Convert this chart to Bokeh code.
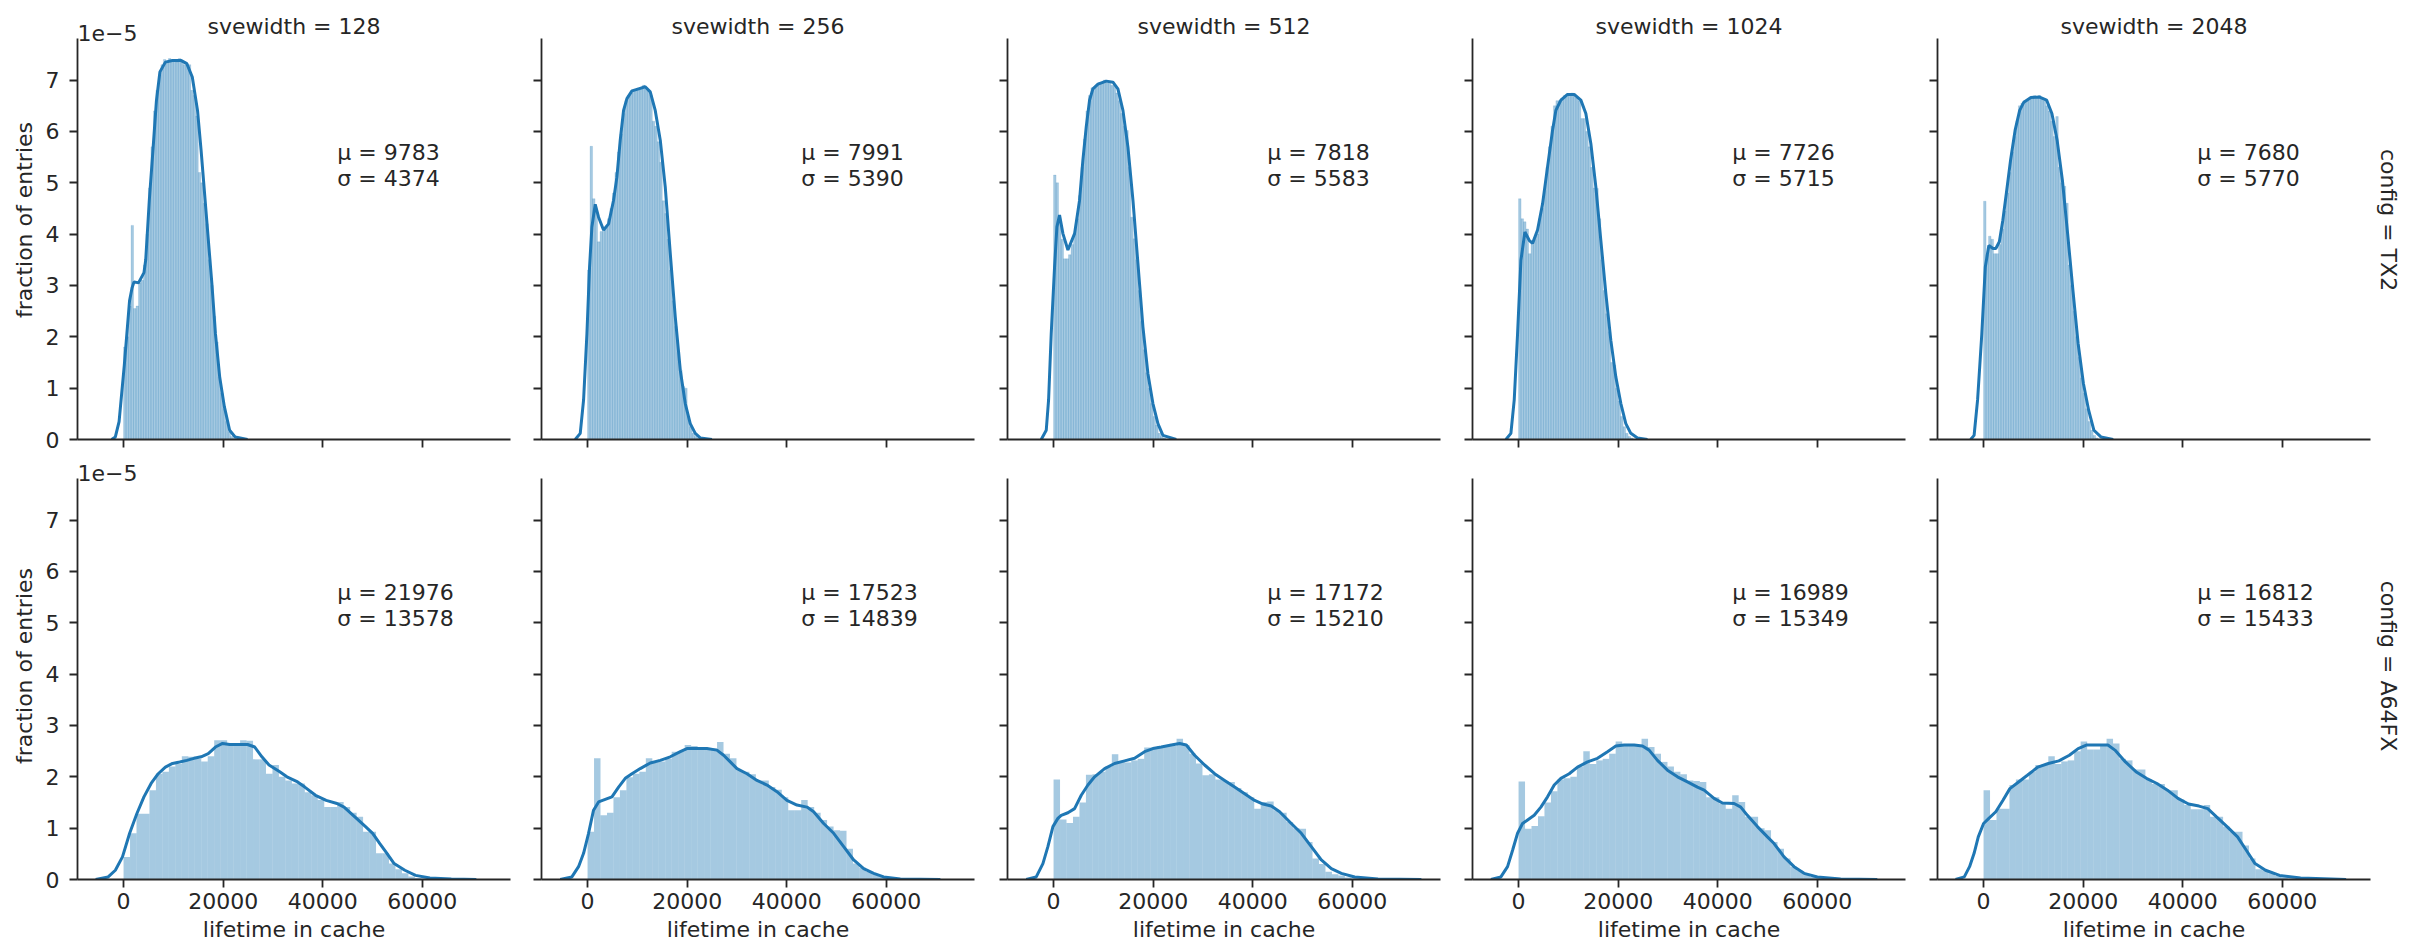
import math
from bokeh.plotting import figure
from bokeh.layouts import gridplot
from bokeh.models import Range1d, FixedTicker, Label, CustomJSTickFormatter, Title
from bokeh.embed import file_html
from bokeh.resources import INLINE

# ---------------- data (y values in units of 1e-5) ----------------
SVEWIDTHS = [128, 256, 512, 1024, 2048]
CONFIGS = ["TX2", "A64FX"]
MU_TX2 = [9783, 7991, 7818, 7726, 7680]
SIGMA_TX2 = [4374, 5390, 5583, 5715, 5770]
MU_A64FX = [21976, 17523, 17172, 16989, 16812]
SIGMA_A64FX = [13578, 14839, 15210, 15349, 15433]
X_TICKS = [0, 20000, 40000, 60000]
Y_TICKS = [0, 1, 2, 3, 4, 5, 6, 7]
BIN_WIDTH_TX2 = 500
BIN_WIDTH_A64FX = 1300

HIST_TX2_128 = [1.8, 2.0, 2.6, 4.17, 2.55, 2.6, 3.05, 3.1, 3.4, 4.0,
                4.9, 5.7, 6.4, 6.8, 7.1, 7.3, 7.4, 7.35, 7.42, 7.38,
                7.4, 7.35, 7.42, 7.35, 7.3, 7.3, 7.3, 6.8, 6.7, 6.3,
                5.2, 5.0, 4.6, 4.2, 3.5, 3.0, 2.4, 1.9, 1.22, 0.9,
                0.6, 0.35, 0.15, 0.06, 0.02]
HIST_TX2_256 = [3.3, 5.71, 4.69, 4.45, 3.85, 4.05, 4.1, 4.15, 4.3, 4.5,
                4.8, 5.2, 5.6, 5.95, 6.35, 6.6, 6.7, 6.75, 6.8, 6.8,
                6.85, 6.85, 6.9, 6.85, 6.8, 6.7, 6.2, 6.1, 5.8, 5.4,
                4.65, 4.4, 3.9, 3.3, 2.7, 2.2, 1.7, 1.35, 1.03, 1.0,
                0.45, 0.25, 0.12, 0.06, 0.03]
HIST_TX2_512 = [5.15, 5.0, 4.3, 3.9, 3.52, 3.52, 3.6, 3.8, 4.0, 4.3,
                4.75, 5.3, 5.85, 6.4, 6.7, 6.85, 6.85, 6.9, 6.95, 6.95,
                7.0, 6.95, 6.98, 6.9, 6.9, 6.75, 6.6, 6.35, 6.1, 6.02,
                5.3, 4.33, 3.91, 3.5, 2.9, 2.3, 1.75, 1.3, 1.0, 0.7,
                0.45, 0.28, 0.12, 0.06, 0.03]
HIST_TX2_1024 = [4.69, 4.3, 4.24, 4.1, 3.62, 3.8, 3.9, 4.0, 4.3, 4.5,
                 4.85, 5.3, 5.7, 6.1, 6.5, 6.6, 6.6, 6.65, 6.7, 6.72,
                 6.7, 6.75, 6.7, 6.65, 6.6, 6.25, 6.25, 6.0, 5.7, 5.3,
                 4.9, 4.89, 4.3, 3.5, 2.9, 2.45, 2.1, 1.5, 1.45, 1.0,
                 0.75, 0.45, 0.25, 0.12, 0.06, 0.03]
HIST_TX2_2048 = [4.64, 3.6, 3.96, 3.9, 3.62, 3.62, 3.8, 4.1, 4.45, 4.8,
                 5.2, 5.6, 5.9, 6.2, 6.5, 6.55, 6.6, 6.6, 6.65, 6.65,
                 6.7, 6.65, 6.7, 6.65, 6.6, 6.5, 6.4, 6.2, 5.9, 6.29,
                 5.3, 5.0, 4.93, 4.6, 3.4, 3.0, 2.5, 2.0, 1.6, 1.2,
                 0.9, 0.6, 0.35, 0.18, 0.08, 0.03]

HIST_A64FX_128 = [0.44, 0.9, 1.28, 1.28, 1.74, 2.06, 2.1, 2.2, 2.25, 2.4,
                  2.39, 2.35, 2.3, 2.4, 2.71, 2.71, 2.62, 2.62, 2.71, 2.7,
                  2.34, 2.34, 2.06, 2.23, 2.0, 1.93, 1.87, 1.87, 1.7, 1.64,
                  1.55, 1.41, 1.41, 1.51, 1.41, 1.3, 1.22, 0.93, 0.93, 0.51,
                  0.51, 0.31, 0.2, 0.12, 0.06, 0.03, 0.02, 0.01]
HIST_A64FX_256 = [0.93, 2.36, 1.25, 1.3, 1.6, 1.74, 1.99, 2.06, 2.1, 2.36,
                  2.3, 2.3, 2.35, 2.49, 2.5, 2.62, 2.6, 2.55, 2.55, 2.55,
                  2.68, 2.45, 2.36, 2.13, 2.1, 2.05, 1.93, 1.93, 1.8, 1.75,
                  1.6, 1.35, 1.35, 1.55, 1.41, 1.3, 1.16, 1.03, 0.96, 0.95,
                  0.6, 0.31, 0.23, 0.15, 0.1, 0.05, 0.03, 0.02]
HIST_A64FX_512 = [1.95, 1.17, 1.1, 1.22, 1.5, 2.04, 2.05, 2.1, 2.2, 2.44,
                  2.3, 2.28, 2.32, 2.35, 2.57, 2.57, 2.6, 2.6, 2.6, 2.74,
                  2.62, 2.45, 2.26, 2.03, 2.05, 1.95, 1.92, 1.9, 1.78, 1.7,
                  1.6, 1.38, 1.51, 1.52, 1.35, 1.3, 1.12, 1.0, 0.99, 0.73,
                  0.41, 0.3, 0.15, 0.1, 0.08, 0.04, 0.02, 0.01]
HIST_A64FX_1024 = [1.91, 0.99, 1.04, 1.23, 1.5, 1.72, 1.95, 1.97, 2.0, 2.2,
                   2.5, 2.25, 2.32, 2.35, 2.45, 2.69, 2.6, 2.6, 2.6, 2.74,
                   2.58, 2.45, 2.29, 2.2, 2.1, 2.05, 1.93, 1.92, 1.9, 1.6,
                   1.6, 1.48, 1.38, 1.64, 1.51, 1.22, 1.22, 1.0, 0.96, 0.73,
                   0.6, 0.41, 0.25, 0.17, 0.1, 0.05, 0.03, 0.01]
HIST_A64FX_2048 = [1.74, 1.16, 1.38, 1.38, 1.84, 1.95, 1.95, 2.1, 2.23, 2.25,
                   2.4, 2.25, 2.3, 2.32, 2.5, 2.69, 2.53, 2.53, 2.6, 2.74,
                   2.65, 2.35, 2.32, 2.14, 2.14, 1.95, 1.86, 1.86, 1.74, 1.74,
                   1.56, 1.45, 1.37, 1.37, 1.45, 1.22, 1.22, 1.03, 0.93, 0.93,
                   0.66, 0.41, 0.2, 0.18, 0.12, 0.07, 0.04, 0.02]

KDE_X_TX2_128 = [-2400, -1650, -900, 150, 1200, 1700, 2100, 3000, 4100, 4450,
                 5170, 5900, 6600, 7300, 8400, 9800, 11600, 12700, 13800, 14850,
                 15570, 16650, 17730, 18450, 19300, 20240, 21300, 22400, 24900]
KDE_Y_TX2_128 = [0, 0.05, 0.35, 1.45, 2.7, 2.95, 3.07, 3.05, 3.25, 3.5,
                 4.66, 5.63, 6.6, 7.16, 7.35, 7.38, 7.38, 7.32, 7.06, 6.41,
                 5.63, 4.33, 3.04, 2.06, 1.22, 0.64, 0.18, 0.05, 0]
KDE_X_TX2_256 = [-2480, -1470, -800, -130, 400, 870, 1540, 2210, 3210, 4220,
                 5220, 5890, 6560, 7230, 7900, 8910, 10250, 11580, 12590, 13590,
                 14600, 15600, 16610, 17610, 18620, 19620, 20620, 21630, 22630, 24980]
KDE_Y_TX2_256 = [0, 0.12, 0.77, 2.06, 3.36, 4.14, 4.58, 4.33, 4.08, 4.2,
                 4.66, 5.11, 5.83, 6.41, 6.64, 6.79, 6.83, 6.87, 6.77, 6.41,
                 5.83, 4.92, 3.62, 2.39, 1.35, 0.70, 0.31, 0.12, 0.03, 0]
KDE_X_TX2_512 = [-2480, -1470, -1000, -470, 200, 670, 1200, 1880, 2880, 4220,
                 5220, 5890, 6560, 7230, 7900, 8910, 10580, 11920, 12920, 13930,
                 14930, 15940, 16940, 17950, 18950, 19950, 20960, 21960, 24640]
KDE_Y_TX2_512 = [0, 0.18, 0.77, 2.06, 3.36, 4.14, 4.37, 4.01, 3.69, 4.01,
                 4.66, 5.44, 6.09, 6.61, 6.83, 6.92, 6.98, 6.96, 6.83, 6.41,
                 5.70, 4.66, 3.43, 2.19, 1.28, 0.70, 0.31, 0.08, 0]
KDE_X_TX2_1024 = [-2540, -1540, -870, -200, 470, 1270, 2140, 2810, 3810, 4820,
                  5820, 6820, 7490, 8500, 9830, 11170, 12510, 13510, 14520, 15520,
                  16520, 17530, 18530, 19530, 20540, 21540, 22540, 23880, 25890]
KDE_Y_TX2_1024 = [0, 0.12, 0.77, 2.06, 3.49, 4.04, 3.88, 3.82, 4.08, 4.59,
                  5.31, 6.02, 6.41, 6.61, 6.72, 6.72, 6.61, 6.35, 5.76, 4.92,
                  3.88, 2.84, 1.93, 1.22, 0.70, 0.31, 0.12, 0.03, 0]
KDE_X_TX2_2048 = [-2600, -1900, -1200, -350, 350, 1060, 1900, 2460, 3170, 3870,
                  4570, 5420, 6330, 7250, 8090, 9500, 11250, 12660, 13720, 14770,
                  15830, 16880, 17940, 18990, 20050, 21100, 22160, 23560, 26030]
KDE_Y_TX2_2048 = [0, 0.08, 0.77, 2.06, 3.36, 3.78, 3.72, 3.72, 3.85, 4.27,
                  4.79, 5.44, 6.02, 6.41, 6.57, 6.66, 6.67, 6.61, 6.35, 5.83,
                  5.05, 4.01, 2.91, 1.87, 1.09, 0.57, 0.18, 0.05, 0]

KDE_X_A64FX_128 = [-5600, -3090, -1650, -220, 1220, 2660, 4090, 5530, 6960, 8400,
                   9830, 11270, 12700, 14140, 15570, 17010, 18450, 19880, 21320, 22750,
                   24900, 26340, 27780, 29210, 31360, 32800, 34950, 36390, 38540, 40690,
                   42850, 44280, 46440, 48590, 50020, 51460, 52890, 54330, 56480, 58640,
                   61510, 65810, 70840]
KDE_Y_A64FX_128 = [0, 0.05, 0.18, 0.44, 0.9, 1.28, 1.61, 1.87, 2.06, 2.19,
                   2.26, 2.29, 2.32, 2.36, 2.39, 2.45, 2.58, 2.65, 2.63, 2.63,
                   2.63, 2.58, 2.39, 2.23, 2.10, 2.0, 1.90, 1.80, 1.64, 1.54,
                   1.48, 1.41, 1.22, 1.03, 0.90, 0.70, 0.51, 0.31, 0.18, 0.08,
                   0.03, 0.01, 0]
KDE_X_A64FX_256 = [-5490, -3150, -1810, -800, 200, 1200, 2210, 3550, 4890, 6230,
                   7570, 8910, 10580, 12590, 14600, 16610, 18620, 19950, 21960, 23970,
                   25980, 27320, 28660, 30000, 32010, 34020, 36030, 38030, 40040, 42050,
                   44060, 45400, 47410, 49420, 51430, 53440, 55450, 57460, 59460, 62810,
                   70850]
KDE_Y_A64FX_256 = [0, 0.05, 0.25, 0.51, 0.9, 1.35, 1.51, 1.56, 1.61, 1.80,
                   1.97, 2.06, 2.16, 2.27, 2.32, 2.39, 2.49, 2.55, 2.55, 2.55,
                   2.52, 2.42, 2.29, 2.16, 2.06, 1.93, 1.84, 1.71, 1.54, 1.45,
                   1.41, 1.32, 1.09, 0.90, 0.64, 0.38, 0.21, 0.12, 0.05, 0.01,
                   0]
KDE_X_A64FX_512 = [-5490, -3480, -2140, -1140, -130, 870, 1540, 2880, 4220, 5560,
                   6900, 8240, 10250, 12250, 14260, 16270, 18280, 19950, 21630, 23640,
                   25310, 26650, 28320, 30330, 32340, 34350, 36360, 38370, 40380, 42050,
                   43730, 45400, 47740, 49750, 51760, 53770, 55780, 57790, 60470, 65150,
                   73860]
KDE_Y_A64FX_512 = [0, 0.05, 0.31, 0.64, 1.03, 1.19, 1.25, 1.30, 1.38, 1.64,
                   1.84, 2.0, 2.16, 2.26, 2.31, 2.36, 2.49, 2.55, 2.58, 2.62,
                   2.65, 2.62, 2.42, 2.23, 2.06, 1.93, 1.80, 1.67, 1.54, 1.47,
                   1.43, 1.32, 1.09, 0.9, 0.64, 0.38, 0.21, 0.12, 0.05, 0.01,
                   0]
KDE_X_A64FX_1024 = [-5550, -3550, -2210, -1200, -200, 800, 1810, 3140, 4480, 5820,
                    7160, 8500, 10170, 11840, 13850, 15850, 17860, 19530, 21200, 23210,
                    24880, 26220, 27890, 29900, 31910, 33910, 35920, 37260, 39260, 40940,
                    43280, 44620, 45950, 47960, 49970, 51310, 53310, 55320, 57330, 60000,
                    64680, 72040]
KDE_Y_A64FX_1024 = [0, 0.05, 0.25, 0.57, 0.9, 1.09, 1.16, 1.25, 1.41, 1.61,
                    1.84, 1.97, 2.06, 2.19, 2.29, 2.36, 2.49, 2.60, 2.62, 2.62,
                    2.60, 2.52, 2.32, 2.13, 2.0, 1.90, 1.80, 1.74, 1.58, 1.49,
                    1.48, 1.41, 1.25, 1.03, 0.83, 0.70, 0.44, 0.25, 0.12, 0.05,
                    0.01, 0]
KDE_X_A64FX_2048 = [-5630, -3870, -2810, -1900, -1060, 0, 1060, 2460, 3870, 5280,
                    7030, 8790, 10900, 13010, 15120, 17230, 18990, 20750, 22860, 24970,
                    26380, 28490, 30600, 32710, 34820, 36930, 39040, 41150, 43260, 45020,
                    46780, 48890, 51000, 52760, 54510, 56620, 59440, 63660, 72800]
KDE_Y_A64FX_2048 = [0, 0.05, 0.25, 0.51, 0.83, 1.09, 1.19, 1.32, 1.54, 1.77,
                    1.90, 2.03, 2.19, 2.26, 2.31, 2.42, 2.55, 2.62, 2.62, 2.62,
                    2.52, 2.29, 2.10, 1.97, 1.87, 1.74, 1.58, 1.47, 1.43, 1.38,
                    1.22, 1.03, 0.83, 0.57, 0.31, 0.18, 0.08, 0.03, 0]

HISTS = {
    "TX2": [HIST_TX2_128, HIST_TX2_256, HIST_TX2_512, HIST_TX2_1024, HIST_TX2_2048],
    "A64FX": [HIST_A64FX_128, HIST_A64FX_256, HIST_A64FX_512, HIST_A64FX_1024, HIST_A64FX_2048],
}
KDE_X = {
    "TX2": [KDE_X_TX2_128, KDE_X_TX2_256, KDE_X_TX2_512, KDE_X_TX2_1024, KDE_X_TX2_2048],
    "A64FX": [KDE_X_A64FX_128, KDE_X_A64FX_256, KDE_X_A64FX_512, KDE_X_A64FX_1024, KDE_X_A64FX_2048],
}
KDE_Y = {
    "TX2": [KDE_Y_TX2_128, KDE_Y_TX2_256, KDE_Y_TX2_512, KDE_Y_TX2_1024, KDE_Y_TX2_2048],
    "A64FX": [KDE_Y_A64FX_128, KDE_Y_A64FX_256, KDE_Y_A64FX_512, KDE_Y_A64FX_1024, KDE_Y_A64FX_2048],
}
MUS = {"TX2": MU_TX2, "A64FX": MU_A64FX}
SIGMAS = {"TX2": SIGMA_TX2, "A64FX": SIGMA_A64FX}
BIN_WIDTHS = {"TX2": BIN_WIDTH_TX2, "A64FX": BIN_WIDTH_A64FX}

# ---------------- layout / style ----------------
COL_LEFT = [77, 15, 16, 16, 16]
COL_FRAME = [433, 433, 433, 433, 433]
COL_RIGHT = [16, 17, 16, 16, 56]
AXIS_PX = 401                    # pixel height of the drawn y axis (0 .. Y_AXIS_END)
ROW_FRAME = [439, 427]           # frames extended upward to hold the header texts
ROW_BOTTOM = [13, 70]

X_START, X_END = -9250, 77700
Y_AXIS_END = 7.81
PX_PER_UNIT = AXIS_PX / Y_AXIS_END
FONT = "DejaVu Sans"
FS = "22px"
INK = "#262626"
BLUE = "#1f77b4"
AXW = 1.8
TICK = 8

rows = []
for ri, cfg in enumerate(CONFIGS):
    figs = []
    y_end = ROW_FRAME[ri] / PX_PER_UNIT
    for ci, sw in enumerate(SVEWIDTHS):
        p = figure(
            width=COL_LEFT[ci] + COL_FRAME[ci] + COL_RIGHT[ci],
            height=ROW_FRAME[ri] + ROW_BOTTOM[ri],
            x_range=Range1d(X_START, X_END), y_range=Range1d(0, y_end),
            output_backend="svg", toolbar_location=None,
            min_border_left=COL_LEFT[ci], min_border_right=COL_RIGHT[ci],
            min_border_top=0, min_border_bottom=ROW_BOTTOM[ri],
            background_fill_color="white", border_fill_color="white",
        )
        p.outline_line_color = None
        p.xgrid.visible = False
        p.ygrid.visible = False

        for ax, ticks in ((p.xaxis[0], X_TICKS), (p.yaxis[0], Y_TICKS)):
            ax.ticker = FixedTicker(ticks=ticks)
            ax.axis_line_color = INK
            ax.axis_line_width = AXW
            ax.major_tick_line_color = INK
            ax.major_tick_line_width = AXW
            ax.major_tick_out = TICK
            ax.major_tick_in = 0
            ax.minor_tick_line_color = None
            ax.minor_tick_out = 0
            ax.minor_tick_in = 0
            ax.major_label_text_font = FONT
            ax.major_label_text_font_size = FS
            ax.major_label_text_color = INK
            ax.axis_label_text_font = FONT
            ax.axis_label_text_font_size = FS
            ax.axis_label_text_font_style = "normal"
            ax.axis_label_text_color = INK

        xa = p.xaxis[0]
        ya = p.yaxis[0]
        ya.bounds = (0, Y_AXIS_END)
        if ri == 1:
            xa.axis_label = "lifetime in cache"
            xa.major_label_standoff = 5
            xa.axis_label_standoff = 5
        else:
            xa.formatter = CustomJSTickFormatter(code="return '';")
            xa.major_label_text_font_size = "0px"
            xa.major_label_standoff = 0
        if ci == 0:
            ya.axis_label = "fraction of entries"
            ya.major_label_standoff = 10
            ya.axis_label_standoff = 6
        else:
            ya.formatter = CustomJSTickFormatter(code="return '';")
            ya.major_label_text_font_size = "0px"
            ya.major_label_standoff = 0

        heights = HISTS[cfg][ci]
        bw = BIN_WIDTHS[cfg]
        lefts = [i * bw for i in range(len(heights))]
        rights = [l + bw for l in lefts]
        if ri == 0:
            p.quad(left=lefts, right=rights, bottom=0, top=heights,
                   fill_color=BLUE, fill_alpha=0.4,
                   line_color=BLUE, line_alpha=0.3, line_width=0.5)
        else:
            p.quad(left=lefts, right=rights, bottom=0, top=heights,
                   fill_color=BLUE, fill_alpha=0.4, line_color=None)

        kx = KDE_X[cfg][ci]
        ky = KDE_Y[cfg][ci]
        n = min(len(kx), len(ky))
        p.line(kx[:n], ky[:n], line_color=BLUE, line_width=3)

        mu = MUS[cfg][ci]
        sd = SIGMAS[cfg][ci]
        ax_x = X_START + 0.6 * (X_END - X_START)
        p.add_layout(Label(x=ax_x, y=5.585, text=f"\u03bc = {mu}",
                           text_font=FONT, text_font_size=FS, text_color=INK,
                           text_align="left", text_baseline="alphabetic"))
        p.add_layout(Label(x=ax_x, y=5.09, text=f"\u03c3 = {sd}",
                           text_font=FONT, text_font_size=FS, text_color=INK,
                           text_align="left", text_baseline="alphabetic"))

        if ri == 0:
            p.add_layout(Label(x=(X_START + X_END) / 2,
                               y=Y_AXIS_END + 12 / PX_PER_UNIT,
                               text=f"svewidth = {sw}",
                               text_font=FONT, text_font_size=FS, text_color=INK,
                               text_align="center", text_baseline="alphabetic"))
        if ci == 0:
            p.add_layout(Label(x=X_START, y=Y_AXIS_END + 5.5 / PX_PER_UNIT,
                               text="1e\u22125",
                               text_font=FONT, text_font_size=FS, text_color=INK,
                               text_align="left", text_baseline="alphabetic"))
        if ci == len(SVEWIDTHS) - 1:
            p.add_layout(Title(text=f"config = {cfg}", align="center",
                               vertical_align="bottom", standoff=11,
                               text_font=FONT, text_font_size=FS,
                               text_font_style="normal", text_color=INK),
                         "right")
        figs.append(p)
    rows.append(figs)

layout = gridplot(rows, toolbar_location=None)
p = layout
open("out.html", "w").write(file_html(p, INLINE))
